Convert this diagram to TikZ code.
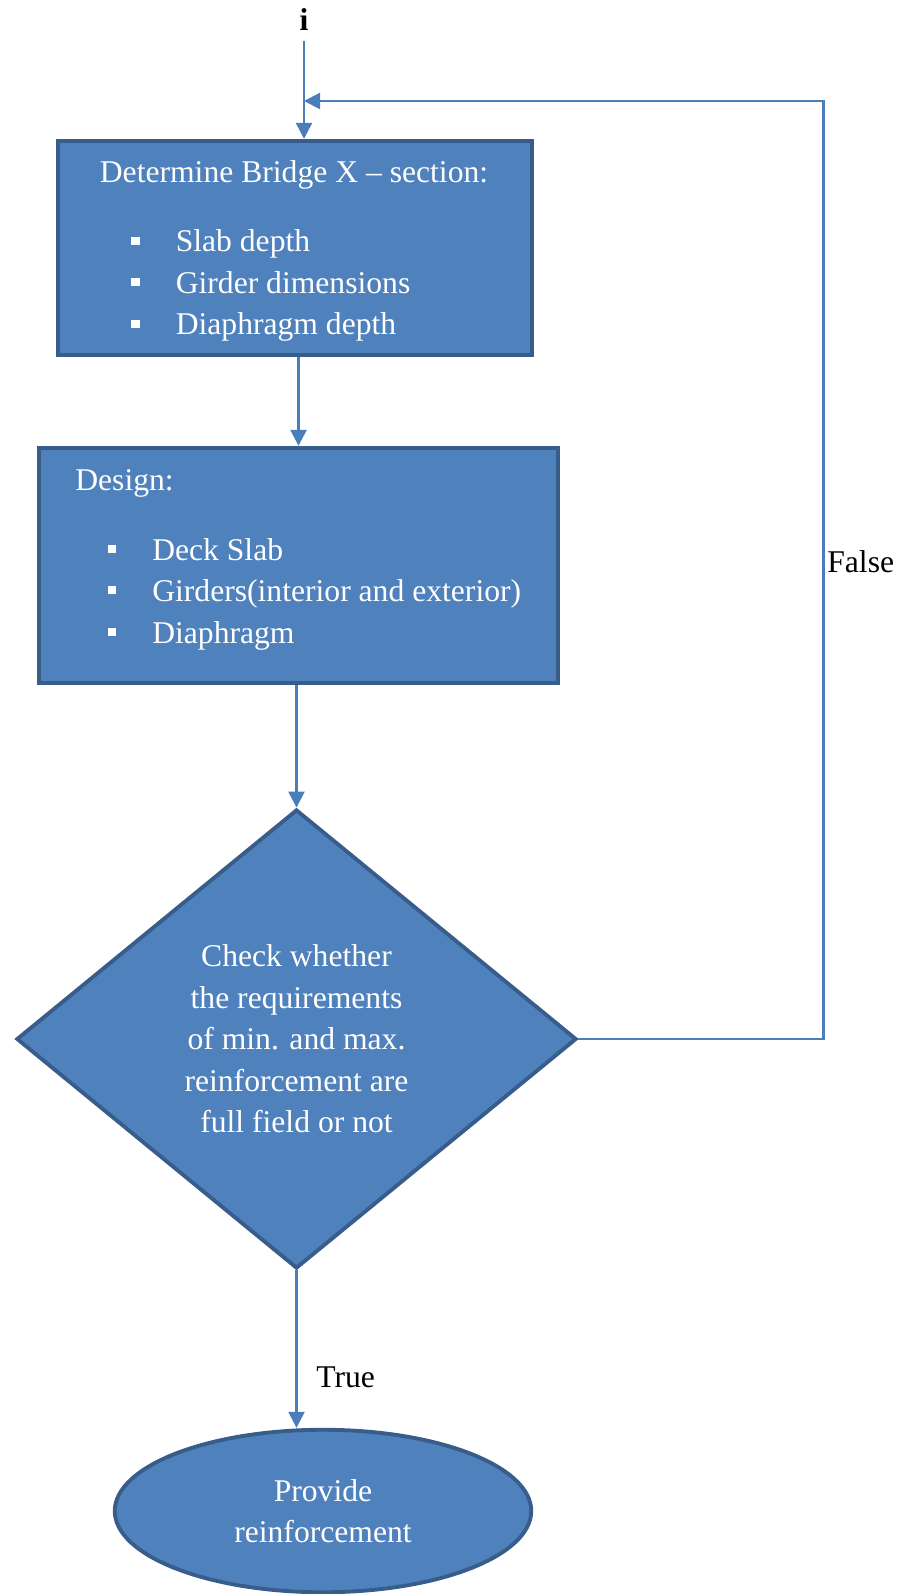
\documentclass[tikz,border=0pt]{standalone}
\usepackage{fontspec}
\setmainfont{Liberation Serif}
\usetikzlibrary{shapes.geometric,arrows.meta}

\definecolor{boxfill}{HTML}{4F81BD}
\definecolor{boxline}{HTML}{385D8A}
\definecolor{flowline}{HTML}{4A7EBB}

% square bullet as drawn in the boxes
\newcommand{\sqbullet}{\rule[4pt]{4.8pt}{4.8pt}\hspace{0.72cm}}

\tikzset{
  stepbox/.style={draw=boxline, fill=boxfill, line width=2.2pt},
  wtext/.style={text=white, font=\fontsize{18}{23.6}\selectfont, inner sep=0pt},
  btext/.style={text=black, font=\fontsize{18}{23.6}\selectfont, inner sep=0pt},
  flow/.style={draw=flowline, line width=1.4pt, -{Triangle[width=0.32cm,length=0.32cm]}},
}

\begin{document}
\begin{tikzpicture}
  \useasboundingbox (0,0) rectangle (18,-31.88);

  % entry point
  \node[btext, font=\fontsize{18}{23.6}\selectfont\bfseries, anchor=base] (entry) at (6.08,-0.62) {i};
  \coordinate (start) at (6.08,-0.82);

  % cross section box
  \node[stepbox, minimum width=9.49cm, minimum height=4.29cm] (section) at (5.90,-4.96) {};
  \node[wtext, anchor=base] (sectitle) at (5.88,-3.66) {Determine Bridge X -- section:};
  \node[wtext, anchor=base west] (slab) at (2.62,-5.04) {\sqbullet Slab depth};
  \node[wtext, anchor=base west] (girder) at (2.62,-5.87) {\sqbullet Girder dimensions};
  \node[wtext, anchor=base west] (diaph) at (2.62,-6.70) {\sqbullet Diaphragm depth};

  % design box
  \node[stepbox, minimum width=10.39cm, minimum height=4.71cm] (design) at (5.97,-11.31) {};
  \node[wtext, anchor=base west] (destitle) at (1.50,-9.80) {Design:};
  \node[wtext, anchor=base west] (deck) at (2.15,-11.20) {\sqbullet Deck Slab};
  \node[wtext, anchor=base west] (girders) at (2.15,-12.03) {\sqbullet Girders(interior and exterior)};
  \node[wtext, anchor=base west] (diaphr) at (2.15,-12.86) {\sqbullet Diaphragm};

  % decision
  \node[stepbox, diamond, wtext, align=center, minimum width=11.2cm, minimum height=9.18cm]
    (check) at (5.93,-20.78)
    {Check whether\\the requirements\\of min. and max.\\reinforcement are\\full field or not};

  % end
  \node[stepbox, ellipse, wtext, align=center, minimum width=8.33cm, minimum height=3.25cm]
    (provide) at (6.46,-30.22) {Provide\\reinforcement};

  % connectors
  \draw[flow] (start) -- (start |- section.north);
  \draw[flow] (section.south -| design.north) -- (design.north);
  \draw[flow] (design.south -| check.north) -- (check.north);
  \draw[flow] (check.south) -- (check.south |- provide.north);

  \coordinate (turn) at (16.47,-2.02);
  \draw[flow, line width=1.2pt] (check.east) -| (turn) -- (turn -| start);

  \node[btext, anchor=base west] (false) at (16.54,-11.44) {False};
  \node[btext, anchor=base west] (true) at (6.32,-27.74) {True};
\end{tikzpicture}
\end{document}
